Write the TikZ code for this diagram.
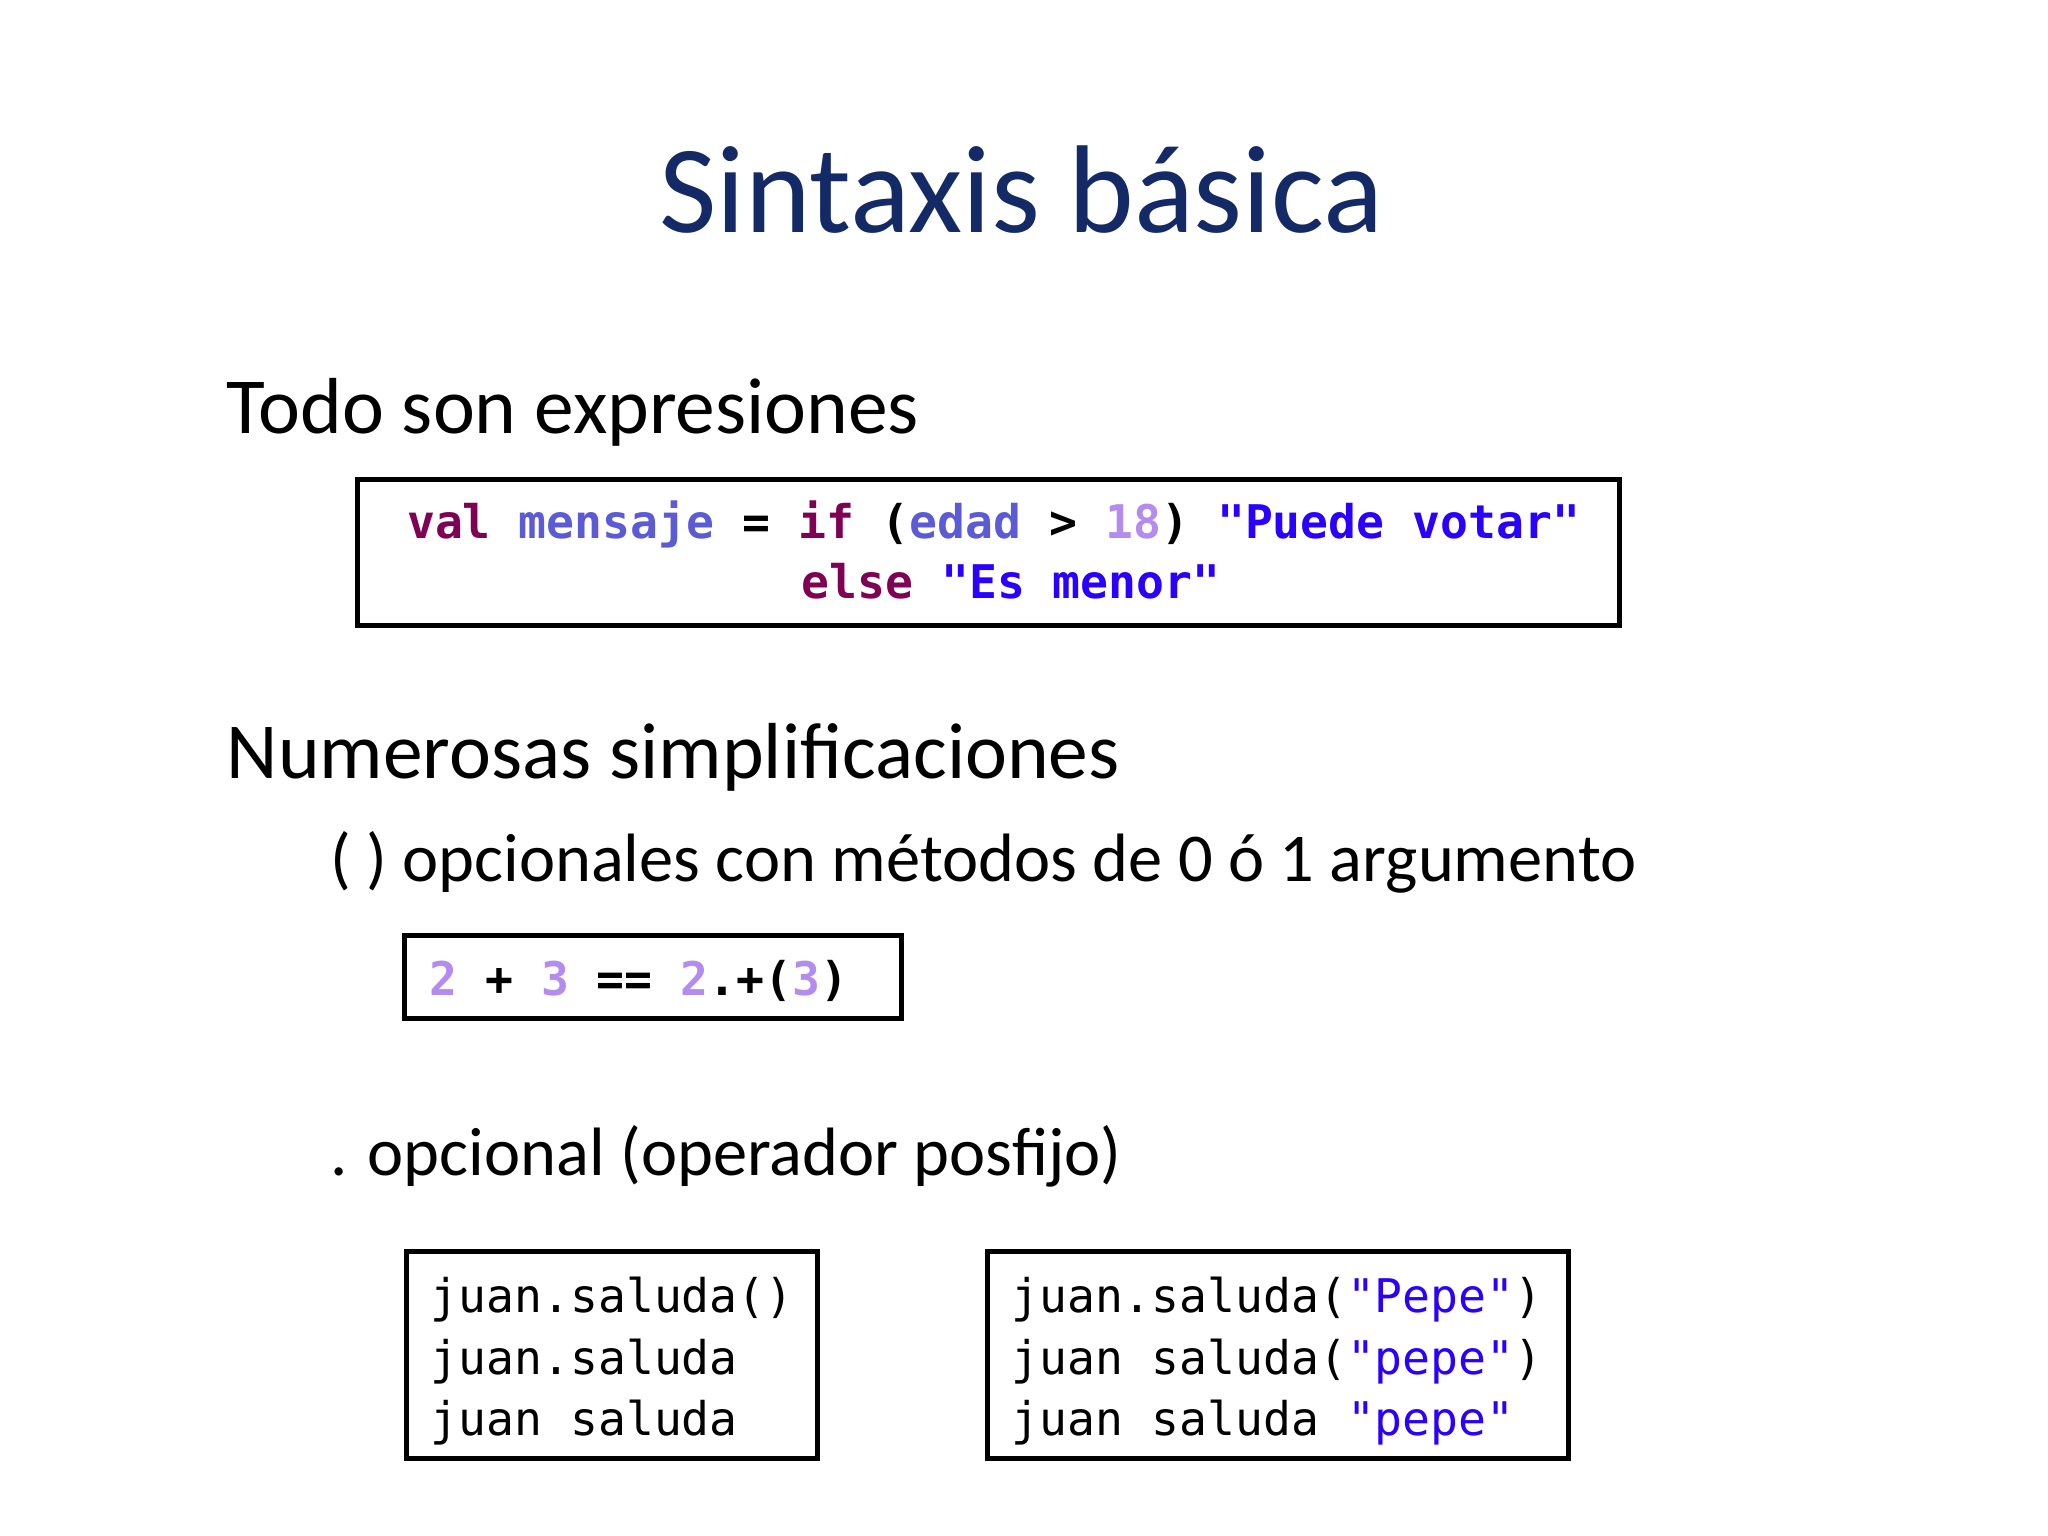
\documentclass[tikz,border=0pt]{standalone}
\usepackage{fontspec}
\setmainfont{Carlito}
\setmonofont{DejaVu Sans Mono}
\definecolor{titleblue}{HTML}{142A66}
\definecolor{kw}{HTML}{7F0055}
\definecolor{var}{HTML}{5B5BD6}
\definecolor{num}{HTML}{B48CF0}
\definecolor{str}{HTML}{2A00FF}
\tikzset{
  txt/.style={anchor=base west,inner sep=0pt,font=\fontsize{17.3}{20}\selectfont},
  sub/.style={anchor=base west,inner sep=0pt,font=\fontsize{14.9}{18}\selectfont},
  code/.style={anchor=base west,inner sep=0pt,font=\fontsize{10.1}{12}\ttfamily},
  codebox/.style={draw=black,line width=1.1pt}
}
\newcommand{\K}[1]{\textcolor{kw}{\textbf{#1}}}
\newcommand{\V}[1]{\textcolor{var}{\textbf{#1}}}
\newcommand{\N}[1]{\textcolor{num}{\textbf{#1}}}
\newcommand{\St}[1]{\textcolor{str}{\textbf{#1}}}
\newcommand{\Sn}[1]{\textcolor{str}{#1}}
\begin{document}
\begin{tikzpicture}[x=0.01cm,y=-0.01cm]
\fill[white] (0,0) rectangle (1568,1176);
\node[anchor=base,inner sep=0pt,font=\fontsize{27.2}{32}\selectfont,text=titleblue] (title) at (782,178) {Sintaxis básica};
\node[txt] (t1) at (173,332) {Todo son expresiones};
\draw[codebox] (274,367) rectangle (1240,479);
\node[code] (c1) at (311,412) {\K{val}~\V{mensaje}~\textbf{=}~\K{if}~\textbf{(}\V{edad}~\textbf{>}~\N{18}\textbf{)}~\St{"Puede~votar"}};
\node[code] (c2) at (613,458) {\K{else}~\St{"Es~menor"}};
\node[txt] (t2) at (173,596) {Numerosas simplificaciones};
\node[sub] (t3) at (252,675) {( ) opcionales con métodos de 0 ó 1 argumento};
\draw[codebox] (310,716) rectangle (690,780);
\node[code] (c3) at (328,762) {\N{2}~\textbf{+}~\N{3}~\textbf{==}~\N{2}\textbf{.+(}\N{3}\textbf{)}};
\node[sub] (t4) at (252,900) {. opcional (operador posfijo)};
\draw[codebox] (311,958) rectangle (626,1117);
\node[code] (d1) at (329,1005) {juan.saluda()};
\node[code] (d2) at (329,1052) {juan.saluda};
\node[code] (d3) at (329,1099) {juan~saluda};
\draw[codebox] (756,958) rectangle (1201,1117);
\node[code] (e1) at (774,1005) {juan.saluda(\Sn{"Pepe"})};
\node[code] (e2) at (774,1052) {juan~saluda(\Sn{"pepe"})};
\node[code] (e3) at (774,1099) {juan~saluda~\Sn{"pepe"}};
\end{tikzpicture}
\end{document}
